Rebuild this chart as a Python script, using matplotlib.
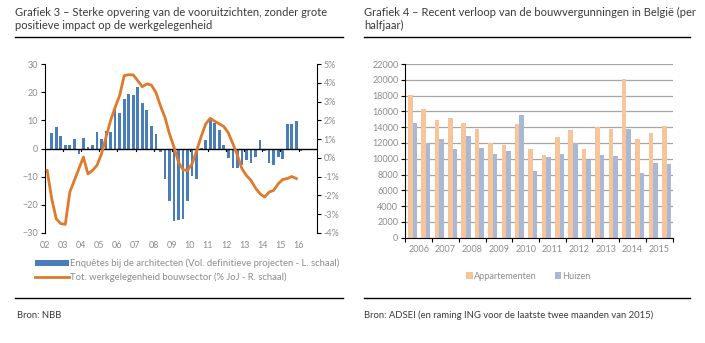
import matplotlib
matplotlib.use('Agg')
import matplotlib.pyplot as plt
from matplotlib.patches import Patch
from matplotlib.lines import Line2D
import numpy as np

plt.rcParams['font.family'] = ['Lato', 'DejaVu Sans']

# --- Grafiek 3: quarterly data, 2002Q1 .. 2016Q1
start_year = 2002
# architects survey (left axis), starts 2002Q2
survey = [5.4, 7.7, 4.5, 1.1, 1.2, 3.5, -1.9, 3.7, 0.4, 1.3, 5.7, 3.2, 6.3, 5.8,
          13.9, 12.5, 17.4, 19.5, 18.9, 22.0, 16.3, 13.6, 8.1, 5.1, -1.1, -11.0,
          -18.8, -25.6, -25.4, -25.1, -18.8, -9.8, -10.7, 0.3, 3.1, 10.0, 9.2, 6.6,
          1.2, -3.5, -7.1, -7.1, -5.9, -4.1, -5.0, -3.0, 3.0, -0.9, -5.1, -5.9,
          -3.0, -3.7, 8.6, 8.6, 9.7, -0.8]
# employment in construction, % yoy (right axis), 2002Q1 .. 2015Q4
employment = [-0.67, -2.17, -3.24, -3.50, -3.54, -1.82, -1.20, -0.58, 0.04, -0.85,
              -0.67, -0.40, 0.22, 1.10, 1.99, 2.69, 3.32, 4.38, 4.43, 4.42,
              4.11, 3.79, 3.94, 3.88, 3.49, 2.78, 2.16, 1.28, 0.57, -0.23,
              -0.63, -0.67, -0.31, 0.39, 1.14, 1.81, 2.11, 1.95, 1.81, 1.67,
              1.33, 0.75, 0.13, -0.58, -0.94, -1.20, -1.61, -1.91, -2.09, -1.82,
              -1.73, -1.38, -1.15, -1.10, -0.99, -1.10]
years3 = list(range(2002, 2017))

# --- Grafiek 4: half-yearly building permits 2006..2015
years4 = list(range(2006, 2016))
appartementen = [18050, 16290, 14900, 15100, 14560, 13750, 11940, 11690, 14430, 11180,
                 10420, 12780, 13590, 11180, 14050, 13800, 20040, 12450, 13250, 14180]
huizen = [14560, 11980, 12530, 11220, 12870, 11350, 10590, 10930, 15570, 8440,
          10210, 10590, 12030, 9830, 10460, 10380, 13800, 8190, 9490, 9370]

grey = '#8c8c8c'
txt = '#3a3a3a'

fig = plt.figure(figsize=(7.05, 3.43), dpi=100)

# titles and rules
fig.text(15 / 705, 1 - 6.5 / 343, 'Grafiek 3 – Sterke opvering van de vooruitzichten, zonder grote\n'
         'positieve impact op de werkgelegenheid', fontsize=8.0, color=txt, va='top',
         linespacing=1.3)
fig.text(364 / 705, 1 - 6.5 / 343, 'Grafiek 4 – Recent verloop van de bouwvergunningen in België (per\n'
         'halfjaar)', fontsize=8.0, color=txt, va='top', linespacing=1.3)
for x0, x1 in [(15, 343), (364, 690)]:
    fig.add_artist(Line2D([x0 / 705, x1 / 705], [1 - 37 / 343] * 2, color='black', lw=1.0))
    fig.add_artist(Line2D([x0 / 705, x1 / 705], [1 - 298 / 343] * 2, color='black', lw=1.0))
fig.text(17 / 705, 1 - 315 / 343, 'Bron: NBB', fontsize=6.8, color=txt, va='center')
fig.text(364 / 705, 1 - 315 / 343, 'Bron: ADSEI (en raming ING voor de laatste twee maanden van 2015)',
         fontsize=6.8, color=txt, va='center')

# ---------- left chart
ax = fig.add_axes([44.9 / 705, 1 - 233 / 343, (316.7 - 44.9) / 705, (233 - 64) / 343])
ax2 = ax.twinx()
t_bars = start_year + (np.arange(len(survey)) + 1.5) / 4
t_line = start_year + (np.arange(len(employment)) + 0.5) / 4
ax.bar(t_bars, survey, width=0.15, color='#4a7ebb', zorder=2)
ax2.plot(t_line, employment, color='#e07a2a', lw=2.0, zorder=3)
ax.axhline(0, color='black', lw=1.0, zorder=4)
ax.set_ylim(-30, 30)
ax2.set_ylim(-4, 5)
ax.set_xlim(2002, 2017)
ax.set_yticks(range(-30, 31, 10))
ax2.set_yticks(range(-4, 6))
ax2.set_yticklabels([f'{v}%' for v in range(-4, 6)])
ax.set_xticks(years3)
ax.set_xticklabels([f'{y % 100:02d}' for y in years3])
for a in (ax, ax2):
    for s in a.spines.values():
        s.set_visible(False)
ax.spines['left'].set_visible(True)
ax2.spines['right'].set_visible(True)
ax.spines['left'].set_color('black')
ax2.spines['right'].set_color('black')
ax.tick_params(axis='y', colors=grey, labelsize=6.5, length=3, width=0.8, pad=2)
ax.tick_params(axis='y', color='black')
ax2.tick_params(axis='y', colors=grey, labelsize=6.5, length=3, width=0.8, pad=2)
ax2.tick_params(axis='y', color='black')
ax.tick_params(axis='x', colors=grey, labelsize=6.5, length=0, pad=6)
# small ticks on the zero line
for y in years3:
    ax.plot([y, y], [0, -1.0], color='black', lw=0.8, zorder=4)

handles = [Patch(facecolor='#4a7ebb', edgecolor='none'),
           Line2D([0], [0], color='#e07a2a', lw=2.0)]
labels = ['Enquêtes bij de architecten (Vol. definitieve projecten - L. schaal)',
          'Tot. werkgelegenheid bouwsector (% JoJ - R. schaal)']
leg = fig.legend(handles, labels, loc='upper left', bbox_to_anchor=(30 / 705, 1 - 254 / 343),
                 frameon=False, fontsize=6.8, handlelength=3.6, handleheight=0.5,
                 handletextpad=0.1, labelspacing=0.45, borderpad=0)
for t in leg.get_texts():
    t.set_color(grey)

# ---------- right chart
bx = fig.add_axes([405.3 / 705, 1 - 237.7 / 343, (672.7 - 405.3) / 705, (237.7 - 64) / 343])
slots = np.arange(len(appartementen))
bw = 0.34
bx.bar(slots - bw / 2 + 0.04, appartementen, width=bw, color='#f8c49a', zorder=2,
       label='Appartementen')
bx.bar(slots + bw / 2 + 0.04, huizen, width=bw, color='#a9b9d5', zorder=2, label='Huizen')
bx.set_ylim(0, 22000)
bx.set_xlim(-0.5, len(appartementen) - 0.5)
bx.set_yticks(range(0, 22001, 2000))
bx.yaxis.grid(True, color='#a6a6a6', lw=0.9, zorder=0)
for s in ['top', 'right']:
    bx.spines[s].set_visible(False)
bx.spines['left'].set_color('black')
bx.spines['bottom'].set_color('black')
bx.tick_params(axis='y', colors=grey, labelsize=6.5, length=3, width=0.8, pad=2)
bx.tick_params(axis='y', color='black')
bx.set_xticks(np.arange(0, len(appartementen) + 1, 2) - 0.5)
bx.set_xticklabels([])
bx.tick_params(axis='x', length=3, width=0.8, color='black')
bx.set_xticks(np.arange(len(years4)) * 2 + 0.5, minor=True)
bx.set_xticklabels([str(y) for y in years4], minor=True)
bx.tick_params(axis='x', which='minor', length=0, colors=grey, labelsize=6.5, pad=5)
leg2 = bx.legend(loc='upper center', bbox_to_anchor=(0.46, -0.17), ncol=2, frameon=False,
                 fontsize=6.6, handlelength=0.7, handleheight=0.7, handletextpad=0.1,
                 columnspacing=2.0, borderpad=0)
for t in leg2.get_texts():
    t.set_color(grey)

fig.savefig('out.png', dpi=100)
